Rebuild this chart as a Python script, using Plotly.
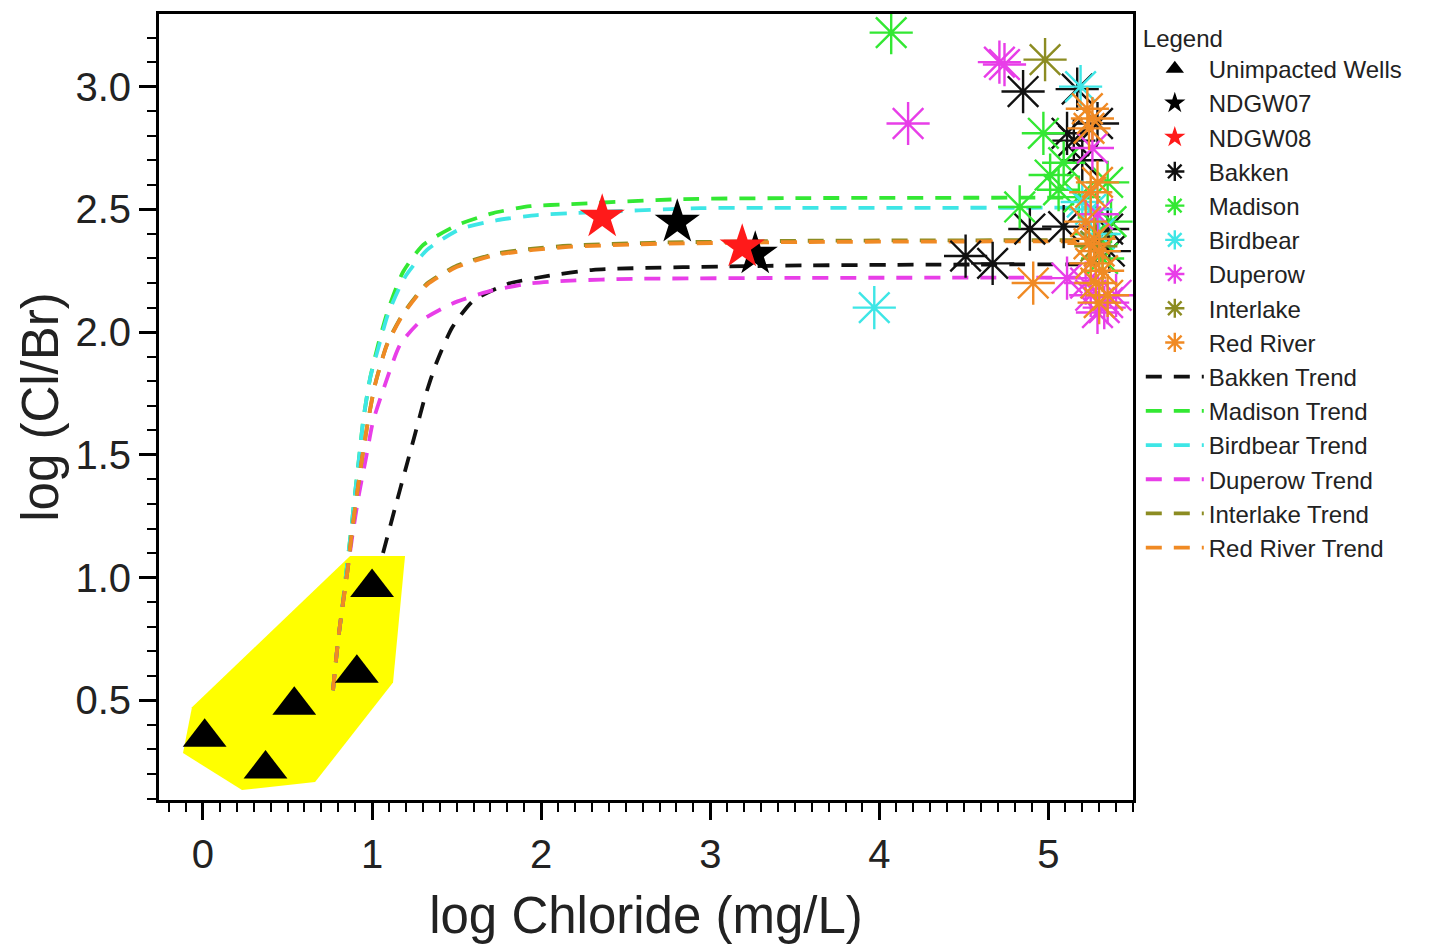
import plotly.graph_objects as go

# ---- Unimpacted wells (freshwater field) ----
unimp_x = [0.01, 0.37, 0.54, 0.91, 1.00]
unimp_y = [0.35, 0.22, 0.48, 0.61, 0.96]

# outline of the unimpacted-wells field
field_x = [-0.118, -0.065, 0.870, 1.195, 1.124, 0.663, 0.231, -0.118]
field_y = [0.285, 0.472, 1.088, 1.088, 0.573, 0.167, 0.135, 0.285]

# ---- monitoring wells ----
ndgw07_x = [2.805, 3.266]
ndgw07_y = [2.448, 2.318]
ndgw08_x = [2.361, 3.189]
ndgw08_y = [2.469, 2.347]

# ---- produced-water samples by formation ----
bakken_x = [4.85, 5.17, 5.11, 5.15, 5.29, 4.51, 4.67, 4.89, 5.09, 5.35, 5.36, 5.20]
bakken_y = [2.98, 2.99, 2.81, 2.78, 2.85, 2.31, 2.28, 2.42, 2.43, 2.42, 2.33, 2.70]

madison_x = [4.07, 4.97, 5.09, 5.01, 5.06, 4.83, 5.35, 5.37, 5.18, 5.28, 5.32]
madison_y = [3.22, 2.81, 2.69, 2.64, 2.58, 2.51, 2.61, 2.45, 2.55, 2.40, 2.30]

birdbear_x = [3.97, 5.19, 5.25, 5.20, 5.30]
birdbear_y = [2.10, 3.00, 2.50, 2.53, 2.40]

duperow_x = [4.71, 4.74, 4.17, 5.26, 5.29, 5.11, 5.22, 5.35, 5.29, 5.40, 5.33, 5.25]
duperow_y = [3.10, 3.09, 2.85, 2.75, 2.48, 2.22, 2.20, 2.12, 2.08, 2.15, 2.10, 2.15]

interlake_x = [4.98, 5.28]
interlake_y = [3.11, 2.35]

redriver_x = [4.91, 5.23, 5.26, 5.24, 5.29, 5.25, 5.22, 5.27, 5.30, 5.25, 5.32, 5.28, 5.35, 5.30, 5.24]
redriver_y = [2.20, 2.91, 2.87, 2.83, 2.61, 2.57, 2.45, 2.38, 2.33, 2.28, 2.25, 2.20, 2.15, 2.12, 2.36]

# ---- mixing trends ----
bakken_tr_x = [1.065, 1.136, 1.195, 1.254, 1.314, 1.379, 1.473, 1.598, 1.805, 2.041, 2.308, 3.337, 4.3, 5.3]
bakken_tr_y = [1.100, 1.284, 1.434, 1.584, 1.738, 1.872, 2.018, 2.128, 2.197, 2.229, 2.254, 2.270, 2.275, 2.276]

madison_tr_x = [0.769, 0.799, 0.822, 0.852, 0.876, 0.899, 0.923, 0.947, 0.988, 1.036, 1.095, 1.183, 1.302,
                1.503, 1.716, 1.935, 2.160, 2.840, 3.533, 5.3]
madison_tr_y = [0.541, 0.744, 0.866, 1.049, 1.191, 1.341, 1.487, 1.637, 1.811, 1.949, 2.091, 2.245, 2.355,
                2.436, 2.485, 2.513, 2.521, 2.542, 2.546, 2.548]

birdbear_tr_x = [0.769, 0.799, 0.822, 0.852, 0.876, 0.899, 0.923, 0.947, 0.988, 1.036, 1.095, 1.195, 1.325,
                 1.521, 1.740, 1.976, 2.189, 2.941, 3.533, 5.3]
birdbear_tr_y = [0.541, 0.744, 0.866, 1.049, 1.191, 1.341, 1.487, 1.637, 1.811, 1.933, 2.075, 2.225, 2.335,
                 2.420, 2.456, 2.477, 2.485, 2.505, 2.506, 2.507]

duperow_tr_x = [0.769, 0.799, 0.822, 0.855, 0.888, 0.923, 0.964, 1.006, 1.077, 1.166, 1.284, 1.473, 1.680,
                1.917, 2.142, 2.544, 3.533, 5.3]
duperow_tr_y = [0.541, 0.744, 0.866, 1.030, 1.191, 1.341, 1.487, 1.637, 1.787, 1.949, 2.043, 2.116, 2.164,
                2.197, 2.209, 2.217, 2.221, 2.222]

interlake_tr_x = [0.769, 0.799, 0.822, 0.855, 0.882, 0.911, 0.941, 0.976, 1.018, 1.089, 1.183, 1.325, 1.503,
                  1.728, 1.953, 2.160, 2.645, 3.533, 5.3]
interlake_tr_y = [0.541, 0.744, 0.866, 1.030, 1.191, 1.341, 1.487, 1.637, 1.787, 1.952, 2.075, 2.198, 2.271,
                  2.319, 2.340, 2.352, 2.364, 2.372, 2.375]

redriver_tr_x = [0.769, 0.799, 0.822, 0.855, 0.882, 0.911, 0.941, 0.976, 1.018, 1.089, 1.183, 1.325, 1.503,
                 1.728, 1.953, 2.160, 2.645, 3.533, 5.3]
redriver_tr_y = [0.541, 0.744, 0.866, 1.030, 1.191, 1.341, 1.487, 1.637, 1.787, 1.949, 2.071, 2.193, 2.266,
                 2.314, 2.335, 2.347, 2.359, 2.367, 2.370]

C_BAKKEN = "#111111"
C_MADISON = "#33e833"
C_BIRDBEAR = "#3ee6e6"
C_DUPEROW = "#e83ee8"
C_INTERLAKE = "#8c8c22"
C_REDRIVER = "#f08a24"

DASH = "16px,12px"
FONT = "Liberation Sans, Arial, sans-serif"

fig = go.Figure()

# field polygon
fig.add_trace(go.Scatter(x=field_x, y=field_y, mode="lines", fill="toself",
                         fillcolor="#ffff00", line=dict(width=0, color="#ffff00"),
                         showlegend=False, hoverinfo="skip"))

trends = [
    ("Bakken Trend", bakken_tr_x, bakken_tr_y, C_BAKKEN, 10),
    ("Madison Trend", madison_tr_x, madison_tr_y, C_MADISON, 11),
    ("Birdbear Trend", birdbear_tr_x, birdbear_tr_y, C_BIRDBEAR, 12),
    ("Duperow Trend", duperow_tr_x, duperow_tr_y, C_DUPEROW, 13),
    ("Interlake Trend", interlake_tr_x, interlake_tr_y, C_INTERLAKE, 14),
    ("Red River Trend", redriver_tr_x, redriver_tr_y, C_REDRIVER, 15),
]
for name, tx, ty, col, rank in trends:
    fig.add_trace(go.Scatter(x=tx, y=ty, mode="lines", name=name, legendrank=rank,
                             line=dict(color=col, width=3.8, dash=DASH, shape="spline", smoothing=0.6)))

fig.add_trace(go.Scatter(x=unimp_x, y=unimp_y, mode="markers", name="Unimpacted Wells", legendrank=1,
                         marker=dict(symbol="triangle-up", size=38, color="black")))
fig.add_trace(go.Scatter(x=ndgw07_x, y=ndgw07_y, mode="markers", name="NDGW07", legendrank=2,
                         marker=dict(symbol="star", size=34, color="black")))
fig.add_trace(go.Scatter(x=ndgw08_x, y=ndgw08_y, mode="markers", name="NDGW08", legendrank=3,
                         marker=dict(symbol="star", size=34, color="#ff1a1a")))

formations = [
    ("Bakken", bakken_x, bakken_y, C_BAKKEN, 4),
    ("Madison", madison_x, madison_y, C_MADISON, 5),
    ("Birdbear", birdbear_x, birdbear_y, C_BIRDBEAR, 6),
    ("Duperow", duperow_x, duperow_y, C_DUPEROW, 7),
    ("Interlake", interlake_x, interlake_y, C_INTERLAKE, 8),
    ("Red River", redriver_x, redriver_y, C_REDRIVER, 9),
]
for name, fx, fy, col, rank in formations:
    fig.add_trace(go.Scatter(x=fx, y=fy, mode="markers", name=name, legendrank=rank,
                             marker=dict(symbol="asterisk-open", size=36, color=col,
                                         line=dict(color=col, width=2.4))))

axis_font = dict(family=FONT, size=40, color="#222222")

fig.update_xaxes(range=[-0.26, 5.50], dtick=1, tick0=0, ticks="outside", ticklen=17, tickwidth=2.5,
                 tickcolor="black", showline=True, linewidth=3, linecolor="black", mirror=True,
                 showgrid=False, zeroline=False, tickfont=axis_font,
                 minor=dict(dtick=0.1, tick0=0, ticks="outside", ticklen=9, tickwidth=2, tickcolor="black"),
                 title=dict(text="log Chloride (mg/L)", font=dict(family=FONT, size=51, color="#222222"),
                            standoff=23))
fig.update_yaxes(range=[0.094, 3.296], dtick=0.5, tick0=0, ticks="outside", ticklen=17, tickwidth=2.5,
                 tickcolor="black", showline=True, linewidth=3, linecolor="black", mirror=True,
                 showgrid=False, zeroline=False, tickfont=axis_font, tickformat=".1f",
                 minor=dict(dtick=0.1, tick0=0, ticks="outside", ticklen=9, tickwidth=2, tickcolor="black"),
                 title=dict(text="log (Cl/Br)", font=dict(family=FONT, size=51, color="#222222"),
                            standoff=1))

fig.update_layout(
    width=1429, height=946,
    margin=dict(l=159, r=296, t=11, b=146),
    paper_bgcolor="white", plot_bgcolor="white",
    legend=dict(x=1.008, y=0.998, xanchor="left", yanchor="top",
                title=dict(text="Legend", font=dict(family=FONT, size=24, color="#222222")),
                font=dict(family=FONT, size=24, color="#222222"),
                itemwidth=58, tracegroupgap=0, bgcolor="rgba(0,0,0,0)",
                traceorder="normal"),
)

fig.write_html("out.html")
